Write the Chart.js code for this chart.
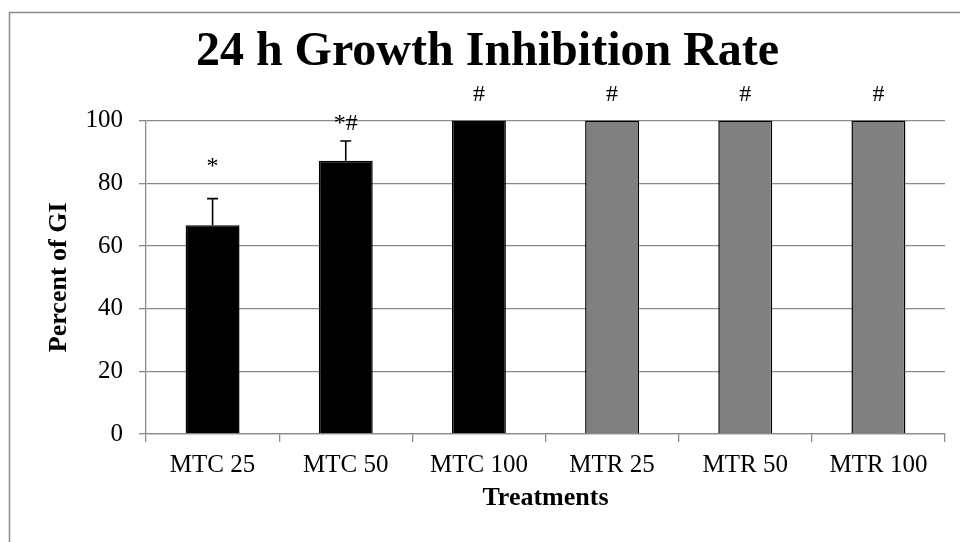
<!DOCTYPE html>
<html lang="en">
<head>
  <meta charset="UTF-8">
  <title>24 h Growth Inhibition Rate</title>
  <script src="https://cdn.jsdelivr.net/npm/chart.js"></script>
  <style>
    body { margin: 0; background: #fff; }
  </style>
</head>
<body>
  <div style="width: 960px; height: 542px;">
    <canvas id="giChart" width="960" height="542"></canvas>
  </div>

  <script>
    const categories = ['MTC 25', 'MTC 50', 'MTC 100', 'MTR 25', 'MTR 50', 'MTR 100'];
    const inhibition = [66.6, 87.2, 100, 100, 100, 100];
    const errUp = [8.5, 6.3, 0, 0, 0, 0];
    const marks = ['*', '*#', '#', '#', '#', '#'];
    const markLevel = [85.2, 98.9, 108.2, 108.2, 108.2, 108.2];
    const barColors = ['#000000', '#000000', '#000000', '#808080', '#808080', '#808080'];
    const yTicks = [0, 20, 40, 60, 80, 100];

    const serif = "'Liberation Serif', 'Times New Roman', serif";
    const gridGray = '#8a8a8a';

    // outer frame, error bars and the */# marks
    const extras = {
      id: 'extras',
      beforeDraw(chart) {
        const ctx = chart.ctx;
        ctx.save();
        ctx.strokeStyle = gridGray;
        ctx.lineWidth = 1.5;
        ctx.beginPath();
        ctx.moveTo(9.5, 542);
        ctx.lineTo(9.5, 12.5);
        ctx.lineTo(960, 12.5);
        ctx.stroke();
        ctx.restore();
      },
      afterDatasetsDraw(chart) {
        const ctx = chart.ctx;
        const y = chart.scales.y;
        const meta = chart.getDatasetMeta(0);
        ctx.save();
        ctx.strokeStyle = '#000';
        ctx.lineWidth = 1.6;
        meta.data.forEach((bar, i) => {
          if (errUp[i] > 0) {
            const y0 = y.getPixelForValue(inhibition[i]);
            const y1 = y.getPixelForValue(inhibition[i] + errUp[i]);
            ctx.beginPath();
            ctx.moveTo(bar.x, y0);
            ctx.lineTo(bar.x, y1);
            ctx.moveTo(bar.x - 5.5, y1);
            ctx.lineTo(bar.x + 5.5, y1);
            ctx.stroke();
          }
        });
        ctx.fillStyle = '#000';
        ctx.font = '24px ' + serif;
        ctx.textAlign = 'center';
        ctx.textBaseline = 'middle';
        meta.data.forEach((bar, i) => {
          ctx.fillText(marks[i], bar.x, y.getPixelForValue(markLevel[i]));
        });
        ctx.restore();
      }
    };

    new Chart(document.getElementById('giChart'), {
      type: 'bar',
      data: {
        labels: categories,
        datasets: [{
          label: 'Percent of GI',
          data: inhibition,
          backgroundColor: barColors,
          borderColor: '#000',
          borderWidth: 1.5,
          categoryPercentage: 1,
          barPercentage: 0.405
        }]
      },
      options: {
        responsive: false,
        animation: false,
        layout: { padding: { left: 30, right: 15, top: 0, bottom: 0 } },
        plugins: {
          legend: { display: false },
          tooltip: { enabled: false },
          title: {
            display: true,
            text: '24 h Growth Inhibition Rate',
            color: '#000',
            font: { family: serif, size: 48, weight: 'bold', lineHeight: 1.2 },
            padding: { top: 24, bottom: 39 }
          }
        },
        scales: {
          x: {
            afterFit(scale) { scale.height = 108; },
            grid: { offset: true, drawOnChartArea: false, drawTicks: true, tickLength: 8, color: gridGray, lineWidth: 1.3 },
            border: { color: gridGray, width: 1.3 },
            ticks: { color: '#000', padding: 8, font: { family: serif, size: 25 } },
            title: {
              display: true,
              text: 'Treatments',
              color: '#000',
              font: { family: serif, size: 26, weight: 'bold', lineHeight: 1.2 },
              padding: { top: 0, bottom: 28 }
            }
          },
          y: {
            min: 0,
            max: 100,
            afterFit(scale) { scale.width = 116; },
            afterBuildTicks(scale) { scale.ticks = yTicks.map(v => ({ value: v })); },
            grid: { color: gridGray, lineWidth: 1.3, tickLength: 7 },
            border: { color: gridGray, width: 1.3 },
            ticks: { color: '#000', padding: 16, font: { family: serif, size: 25 } },
            title: {
              display: true,
              text: 'Percent of GI',
              color: '#000',
              font: { family: serif, size: 26, weight: 'bold', lineHeight: 1.2 },
              padding: { top: 14, bottom: 0 }
            }
          }
        }
      },
      plugins: [extras]
    });
  </script>
</body>
</html>
